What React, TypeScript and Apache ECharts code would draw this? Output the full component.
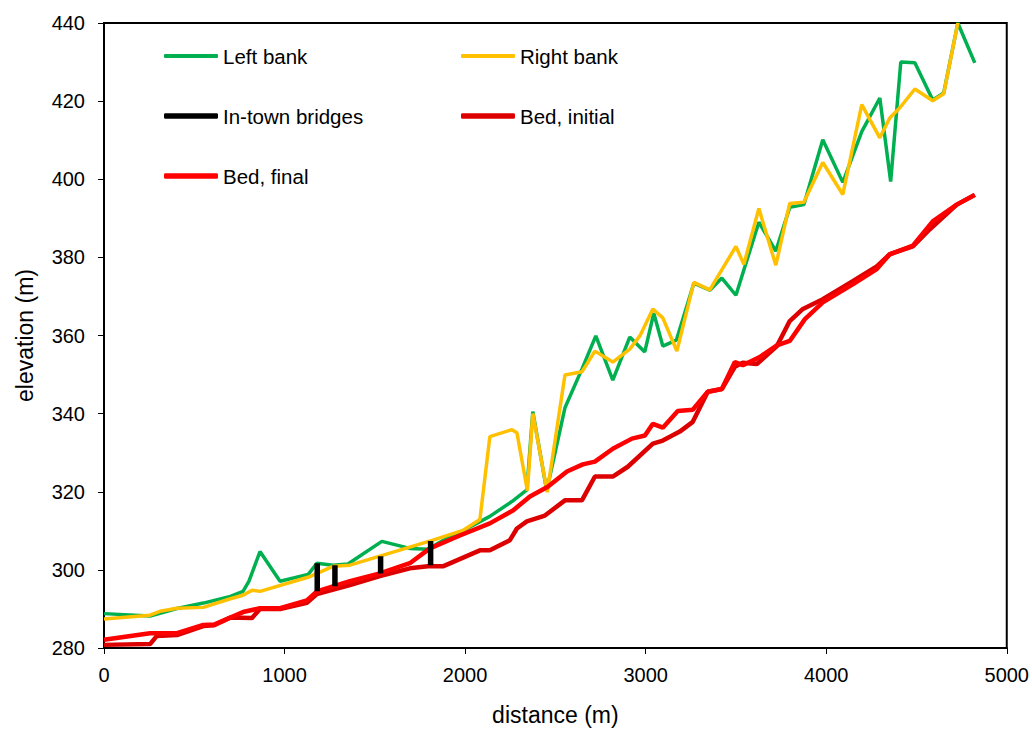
import React, { useEffect, useRef } from "react";
import * as echarts from "echarts";

// Left bank (green): [distance m, elevation m]
const leftBank: [number, number][] = [
  [0, 288.8], [255, 288.2], [404, 290.1], [550, 291.5], [700, 293.2], [770, 294.5],
  [803, 297.1], [864, 304.7], [975, 297.1], [1130, 298.8], [1179, 301.7], [1268, 301.2],
  [1351, 301.5], [1539, 307.3], [1694, 305.5], [1794, 305.3], [1877, 307.5], [1988, 310.0],
  [2137, 313.7], [2259, 317.5], [2342, 320.5], [2375, 340.5], [2452, 320.3], [2553, 341.5],
  [2647, 351.4], [2724, 359.9], [2818, 348.6], [2912, 359.6], [2995, 355.8], [3045, 365.7],
  [3095, 357.3], [3170, 358.8], [3267, 373.4], [3355, 371.6], [3422, 374.7], [3500, 370.3],
  [3627, 389.0], [3721, 381.6], [3798, 392.8], [3876, 393.5], [3981, 410.1], [4092, 399.2],
  [4197, 412.2], [4297, 420.8], [4357, 399.4], [4413, 430.0], [4491, 429.8], [4590, 420.3],
  [4651, 422.1], [4729, 440.0], [4823, 429.8],
];

// Right bank (yellow)
const rightBank: [number, number][] = [
  [0, 287.4], [255, 288.4], [310, 289.4], [404, 290.2], [550, 290.4], [700, 292.6],
  [770, 293.5], [820, 294.8], [864, 294.5], [1130, 298.1], [1268, 300.9], [1362, 301.2],
  [1822, 307.6], [1988, 310.1], [2082, 312.9], [2137, 334.1], [2259, 335.9], [2287, 335.1],
  [2345, 320.3], [2375, 340.0], [2455, 319.9], [2553, 349.9], [2647, 350.7], [2719, 356.0],
  [2818, 353.2], [2912, 356.5], [2968, 359.9], [3040, 366.8], [3095, 364.5], [3173, 356.0],
  [3267, 373.6], [3355, 371.7], [3500, 382.8], [3544, 378.2], [3627, 392.5], [3721, 378.0],
  [3798, 393.8], [3876, 394.1], [3981, 404.3], [4092, 396.1], [4197, 419.1], [4297, 410.6],
  [4352, 415.7], [4408, 418.3], [4491, 423.1], [4590, 420.1], [4651, 421.9], [4729, 440.0],
];

// In-town bridges: distance, deck bottom, deck top
const bridgeDist = [1181, 1279, 1532, 1809];
const bridgeLow = [294.5, 295.8, 299.1, 301.2];
const bridgeHigh = [301.7, 301.2, 303.5, 307.4];

// Bed, initial (dark red)
const bedInitial: [number, number][] = [
  [0, 280.8], [255, 281.0], [293, 283.1], [404, 283.3], [550, 285.6], [610, 285.8],
  [700, 287.8], [820, 287.7], [864, 290.0], [975, 290.0], [1124, 291.6], [1179, 293.8],
  [1362, 296.1], [1528, 298.4], [1694, 300.4], [1794, 300.9], [1877, 300.9], [2082, 305.0],
  [2137, 305.0], [2248, 307.6], [2287, 310.6], [2342, 312.4], [2442, 313.9], [2553, 317.8],
  [2647, 317.8], [2719, 323.9], [2818, 323.9], [2901, 326.4], [3040, 332.3], [3095, 333.1],
  [3189, 335.4], [3261, 337.9], [3344, 345.6], [3422, 346.3], [3494, 352.0], [3538, 353.0],
  [3616, 352.7], [3727, 357.3], [3798, 363.7], [3871, 366.8], [3981, 369.3], [4147, 373.9],
  [4280, 377.7], [4352, 380.8], [4480, 382.8], [4574, 387.2], [4723, 393.5], [4823, 396.0],
];

// Bed, final (bright red)
const bedFinal: [number, number][] = [
  [0, 282.1], [255, 283.8], [404, 283.8], [550, 285.9], [610, 286.0], [770, 289.2],
  [864, 290.2], [975, 290.2], [1124, 292.2], [1179, 294.5], [1362, 297.1], [1528, 299.1],
  [1694, 301.7], [1805, 305.5], [1971, 308.8], [2137, 311.9], [2265, 315.2], [2359, 318.8],
  [2458, 321.3], [2564, 325.2], [2652, 327.0], [2719, 327.7], [2818, 331.0], [2924, 333.6],
  [2996, 334.4], [3040, 337.4], [3095, 336.4], [3178, 340.7], [3261, 341.0], [3344, 345.6],
  [3422, 346.3], [3494, 353.2], [3538, 352.4], [3632, 354.5], [3727, 357.5], [3798, 358.6],
  [3882, 364.2], [3981, 368.5], [4147, 373.1], [4280, 377.0], [4352, 380.8], [4480, 383.0],
  [4590, 389.2], [4723, 393.5], [4823, 396.0],
];

const xTicks = { min: 0, max: 5000, interval: 1000 };
const yTicks = { min: 280, max: 440, interval: 20 };

const FONT = "'Liberation Sans', Arial, sans-serif";

export default function App() {
  const ref = useRef<HTMLDivElement>(null);
  useEffect(() => {
    document.body.style.margin = "0";
    if (!ref.current) return;
    const chart = echarts.init(ref.current, undefined, { renderer: "svg" });

    const bridgeData: any[] = [];
    bridgeDist.forEach((d, i) => {
      bridgeData.push([d, bridgeLow[i]]);
      bridgeData.push([d, bridgeHigh[i]]);
      bridgeData.push([d, "-"]);
    });

    const legendBase = (name: string, left: number, centerY: number, h: number) => ({
      data: [name],
      left,
      top: centerY - 11,
      padding: 0,
      itemWidth: 54,
      itemHeight: h,
      itemGap: 0,
      icon: "roundRect",
      selectedMode: false,
      textStyle: { fontFamily: FONT, fontSize: 20.5, color: "#000", padding: [0, 0, 0, 0], lineHeight: 22 },
    });

    chart.setOption({
      animation: false,
      backgroundColor: "#fff",
      grid: {
        left: 104,
        right: 25,
        top: 23,
        bottom: 81,
        show: true,
        borderColor: "#000",
        borderWidth: 2,
        containLabel: false,
      },
      legend: [
        legendBase("Left bank", 164, 56, 4),
        legendBase("Right bank", 461, 56, 4),
        legendBase("In-town bridges", 164, 116, 5.5),
        legendBase("Bed, initial", 461, 116, 5.5),
        legendBase("Bed, final", 164, 176, 5.5),
      ],
      xAxis: {
        type: "value",
        min: xTicks.min,
        max: xTicks.max,
        interval: xTicks.interval,
        name: "distance (m)",
        nameLocation: "middle",
        nameGap: 55,
        nameTextStyle: { fontFamily: FONT, fontSize: 23, color: "#000" },
        axisLine: { show: true, lineStyle: { color: "#000", width: 2 } },
        axisTick: { show: true, inside: false, length: 6, lineStyle: { color: "#000", width: 1 } },
        axisLabel: {
          fontFamily: FONT,
          fontSize: 20,
          color: "#000",
          margin: 17,
          formatter: (v: number) => String(v),
        },
        splitLine: { show: false },
      },
      yAxis: {
        type: "value",
        min: yTicks.min,
        max: yTicks.max,
        interval: yTicks.interval,
        name: "elevation (m)",
        nameLocation: "middle",
        nameGap: 68,
        nameTextStyle: { fontFamily: FONT, fontSize: 23, color: "#000" },
        axisLine: { show: true, lineStyle: { color: "#000", width: 2 } },
        axisTick: { show: true, inside: false, length: 6, lineStyle: { color: "#000", width: 1 } },
        axisLabel: { fontFamily: FONT, fontSize: 20, color: "#000", margin: 19 },
        splitLine: { show: false },
      },
      series: [
        {
          name: "Left bank",
          type: "line",
          data: leftBank,
          symbol: "none",
          color: "#00B050",
          lineStyle: { color: "#00B050", width: 3.5 },
          z: 2,
        },
        {
          name: "Right bank",
          type: "line",
          data: rightBank,
          symbol: "none",
          color: "#FFC000",
          lineStyle: { color: "#FFC000", width: 3.5 },
          z: 3,
        },
        {
          name: "Bed, initial",
          type: "line",
          data: bedInitial,
          symbol: "none",
          color: "#DD0000",
          lineStyle: { color: "#DD0000", width: 4.5 },
          z: 4,
        },
        {
          name: "Bed, final",
          type: "line",
          data: bedFinal,
          symbol: "none",
          color: "#FF0000",
          lineStyle: { color: "#FF0000", width: 4.5 },
          z: 5,
        },
        {
          name: "In-town bridges",
          type: "line",
          data: bridgeData,
          symbol: "none",
          connectNulls: false,
          color: "#000",
          lineStyle: { color: "#000", width: 5.5 },
          z: 6,
        },
      ],
    });
    return () => chart.dispose();
  }, []);
  return <div ref={ref} style={{ width: 1032, height: 731 }} />;
}
